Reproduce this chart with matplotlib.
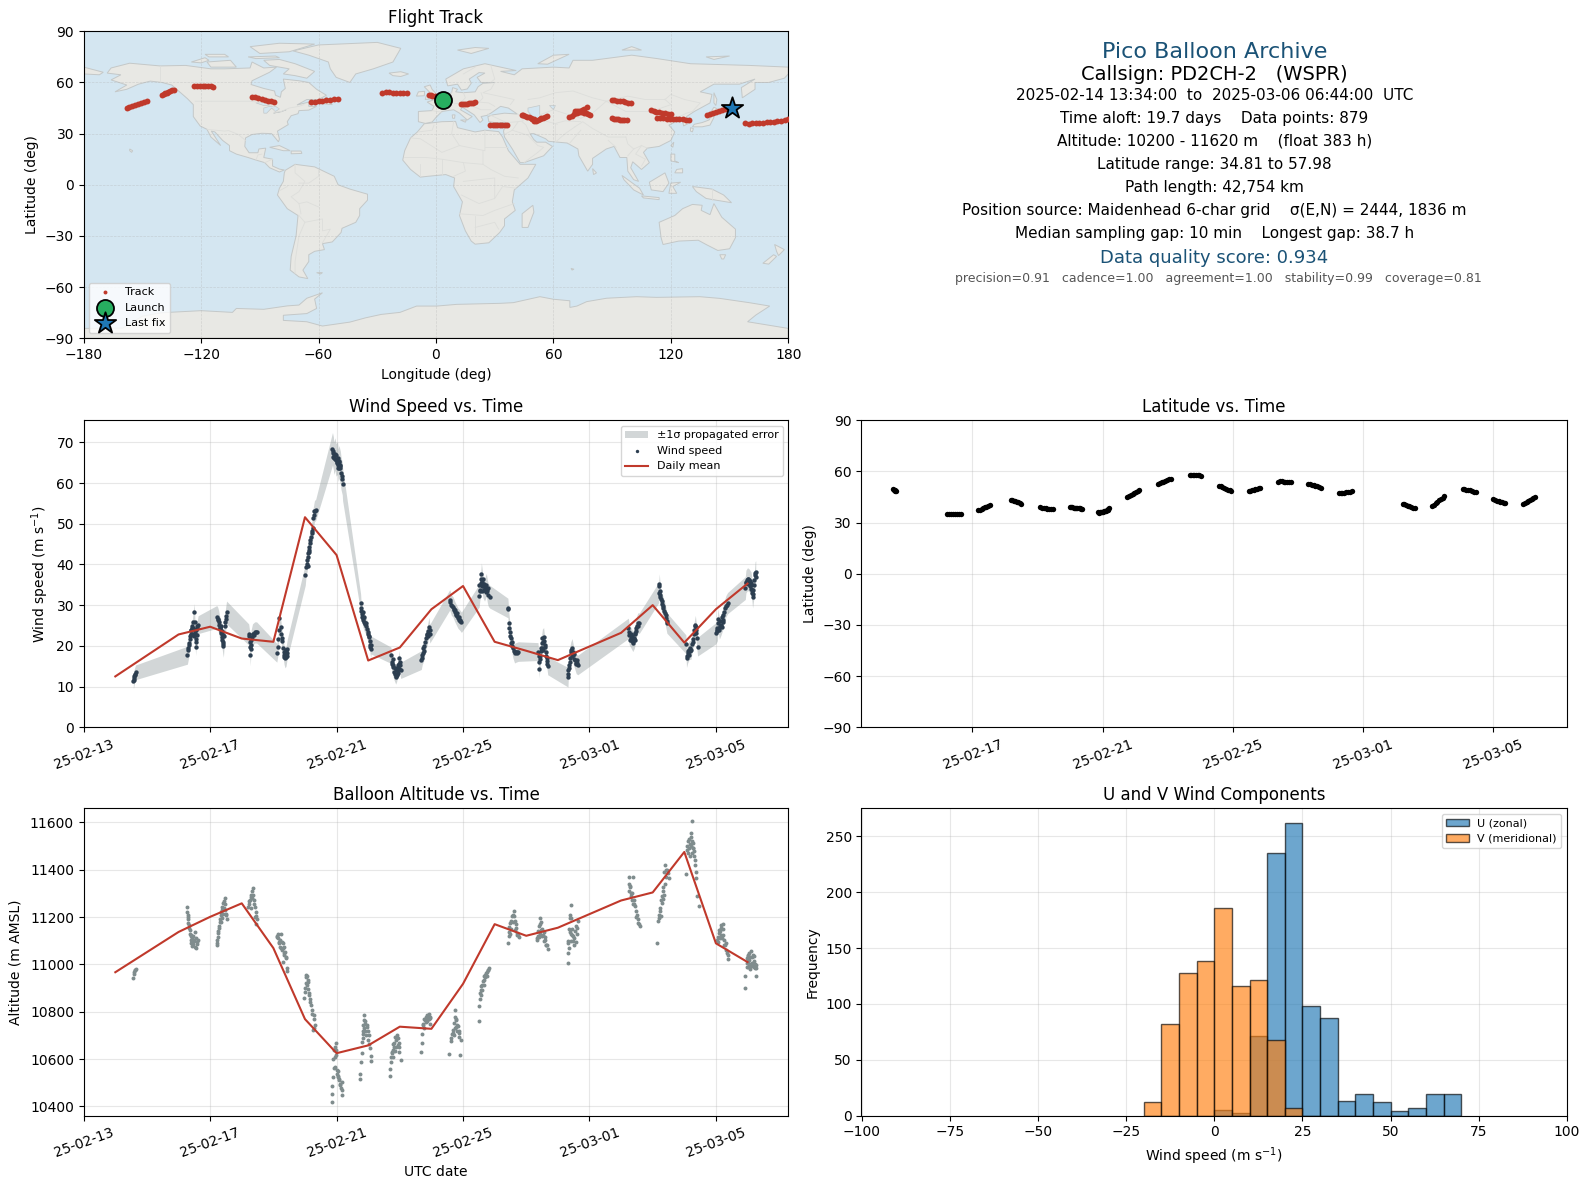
import datetime as dt
from itertools import chain
import matplotlib
matplotlib.use("Agg")
import matplotlib.pyplot as plt
import matplotlib.dates as mdates
from matplotlib.patches import Polygon

W, H = 1589, 1189
RED, GREEN, BLUE, NAVY, SLATE, GREY = "#c0392b", "#27ae60", "#1f77b4", "#1a5276", "#2c3e50", "#7f8c8d"
OCEAN, LAND, COAST, BORDER = "#d4e6f1", "#e8e8e4", "#c4c8c8", "#dddedb"

DAY0 = dt.datetime(2025, 2, 13)
tick_days = [0, 4, 8, 12, 16, 20]

# ---------- track (day offset from 25-02-13, latitude, longitude), one inner list per flight segment
track_day = [
 [1.57,1.59,1.61,1.63,1.66],
 [3.22,3.28,3.34,3.40,3.46,3.52,3.58,3.65],
 [4.18,4.23,4.28,4.33,4.38,4.43,4.48,4.54],
 [5.18,5.23,5.27,5.32,5.36,5.41,5.45,5.50],
 [6.09,6.14,6.20,6.25,6.30,6.35,6.40,6.46],
 [7.00,7.04,7.07,7.11,7.15,7.18,7.22,7.26,7.29,7.33,7.37],
 [7.85,7.88,7.91,7.94,7.97,8.00,8.03,8.06,8.09,8.12,8.15,8.18,8.20],
 [8.76,8.81,8.87,8.92,8.97,9.02,9.08,9.13],
 [9.70,9.76,9.81,9.87,9.92,9.98,10.03,10.09],
 [10.68,10.73,10.78,10.82,10.87,10.92,10.96,11.01],
 [11.57,11.63,11.68,11.74,11.79,11.85,11.90,11.96],
 [12.49,12.54,12.59,12.64,12.69,12.74,12.79,12.84],
 [13.38,13.44,13.50,13.56,13.61,13.67,13.73,13.79],
 [14.31,14.37,14.43,14.49,14.54,14.60,14.66,14.72],
 [15.26,15.32,15.37,15.43,15.48,15.54,15.59,15.65],
 [17.22,17.27,17.33,17.38,17.43,17.48,17.54,17.59],
 [18.13,18.18,18.23,18.29,18.34,18.39,18.45,18.50],
 [19.06,19.12,19.18,19.23,19.29,19.35,19.40,19.46],
 [20.01,20.06,20.12,20.17,20.22,20.27,20.33,20.38],
 [20.93,20.98,21.03,21.08,21.13,21.18,21.23,21.28],
]
track_lat = [
 [49.6,49.4,49.1,48.8,48.5],
 [34.8,34.9,34.8,34.8,34.8,34.8,34.9,34.8],
 [37.2,37.6,38.0,38.5,38.9,39.3,39.8,40.3],
 [43.2,43.0,42.8,42.5,42.3,42.0,41.6,41.2],
 [38.9,38.7,38.5,38.3,38.2,38.1,38.0,38.0],
 [39.0,38.9,38.9,38.8,38.8,38.7,38.6,38.5,38.4,38.2,38.0],
 [36.0,35.9,36.0,36.1,36.2,36.4,36.6,36.8,37.1,37.4,37.7,38.0,38.5],
 [45.3,45.8,46.3,46.8,47.3,47.8,48.3,48.9],
 [52.9,53.3,53.7,54.1,54.5,54.9,55.3,55.7],
 [58.1,58.2,58.2,58.1,58.0,57.9,57.7,57.4],
 [51.6,51.2,50.7,50.2,49.8,49.3,48.9,48.4],
 [48.4,48.7,49.0,49.3,49.6,49.9,50.2,50.5],
 [54.1,54.2,54.2,54.1,54.1,54.1,54.1,54.0],
 [52.6,52.4,52.1,51.8,51.5,51.2,50.9,50.5],
 [47.4,47.4,47.5,47.6,47.7,47.9,48.2,48.5],
 [41.2,40.8,40.4,40.0,39.6,39.2,38.8,38.3],
 [39.9,40.6,41.4,42.2,43.0,43.8,44.7,45.6],
 [49.6,49.5,49.3,49.1,48.9,48.6,48.2,47.7],
 [43.6,43.2,42.8,42.5,42.2,42.0,41.7,41.4],
 [41.0,41.5,42.1,42.7,43.3,43.9,44.4,44.9],
]
track_lon = [
 [3.7,4.2,4.7,5.2,5.7],
 [27.6,28.9,30.1,31.4,32.6,33.9,35.2,36.4],
 [50.2,51.1,52.0,52.9,53.8,54.7,55.6,56.6],
 [71.0,72.1,73.2,74.3,75.4,76.5,77.6,78.7],
 [89.8,90.9,92.0,93.0,94.1,95.2,96.3,97.4],
 [112.8,114.5,116.1,117.8,119.4,121.1,122.8,124.4,126.1,127.7,129.4],
 [157.9,159.7,161.5,163.3,165.1,167.0,168.9,170.7,172.6,174.4,176.2,178.1,180.0],
 [-158.0,-156.6,-155.1,-153.6,-152.2,-150.7,-149.2,-147.8],
 [-140.1,-139.2,-138.4,-137.5,-136.7,-135.8,-135.0,-134.1],
 [-123.4,-122.0,-120.6,-119.2,-117.9,-116.5,-115.1,-113.7],
 [-94.0,-92.4,-90.7,-89.1,-87.5,-85.9,-84.2,-82.6],
 [-64.0,-62.0,-60.0,-58.0,-56.0,-54.0,-52.0,-50.0],
 [-27.4,-25.6,-23.9,-22.1,-20.3,-18.5,-16.8,-15.0],
 [-3.8,-2.8,-1.8,-0.7,0.3,1.3,2.4,3.4],
 [12.8,13.8,14.8,15.8,16.9,17.9,18.9,19.9],
 [43.8,44.7,45.6,46.5,47.4,48.3,49.3,50.2],
 [68.0,69.3,70.6,71.9,73.1,74.4,75.7,77.0],
 [89.8,91.2,92.6,94.0,95.4,96.7,98.1,99.5],
 [109.7,111.2,112.6,114.1,115.5,117.0,118.4,119.9],
 [138.6,140.1,141.7,143.2,144.8,146.3,147.9,151.0],
]

# ---------- wind speed
wind_day = [
 [1.57,1.58,1.60,1.62,1.64],
 [3.28,3.31,3.34,3.36,3.38,3.41,3.44,3.46,3.49,3.51,3.52,3.54,3.55,3.57,3.60,3.62],
 [4.21,4.24,4.27,4.30,4.34,4.36,4.38,4.40,4.42,4.44,4.46,4.49,4.52],
 [5.22,5.25,5.27,5.28,5.30,5.34,5.41,5.47],
 [6.11,6.14,6.16,6.19,6.23,6.25,6.28,6.31,6.34,6.37,6.40,6.44],
 [7.01,7.03,7.07,7.10,7.13,7.17,7.21,7.25,7.26,7.30,7.34],
 [7.87,7.90,7.91,7.95,7.98,8.03,8.05,8.08,8.10,8.12,8.14,8.18,8.19],
 [8.76,8.77,8.80,8.83,8.87,8.91,8.96,9.00,9.04,9.06,9.08,9.09],
 [9.72,9.74,9.77,9.82,9.87,9.90,9.92,9.95,9.98,10.00,10.03],
 [10.68,10.71,10.76,10.81,10.87,10.92,10.95],
 [11.58,11.63,11.68,11.74,11.79,11.84,11.89,11.95],
 [12.51,12.53,12.56,12.58,12.61,12.63,12.68,12.74,12.77,12.80,12.84],
 [13.42,13.45,13.47,13.48,13.52,13.54,13.58,13.63,13.68,13.75],
 [14.37,14.40,14.41,14.44,14.47,14.51,14.55,14.58,14.61,14.65,14.68],
 [15.32,15.33,15.34,15.37,15.41,15.45,15.49,15.54,15.58,15.63],
 [17.23,17.26,17.32,17.37,17.42,17.45,17.47,17.53,17.58],
 [18.19,18.21,18.24,18.28,18.34,18.39,18.42,18.45],
 [19.05,19.07,19.11,19.16,19.21,19.24,19.28,19.32,19.35,19.38,19.42],
 [20.00,20.05,20.06,20.11,20.16,20.21,20.26,20.32,20.37],
 [20.93,20.95,21.00,21.05,21.11,21.14,21.16,21.21,21.24,21.26],
]
wind_speed = [
 [11.4,11.5,12.5,13.0,13.5],
 [17.7,18.9,20.2,21.8,23.0,23.9,24.3,25.9,28.2,25.9,23.9,19.8,21.0,22.6,24.3,25.2],
 [27.1,26.7,25.9,24.5,23.7,22.9,22.1,20.9,20.0,22.5,24.9,26.6,28.2],
 [22.8,21.0,17.7,19.3,21.4,22.8,23.3,23.3],
 [18.3,19.8,21.8,26.9,24.7,23.0,21.1,19.5,17.7,16.9,17.3,19.3],
 [37.5,39.4,41.0,42.7,44.3,46.0,47.6,48.9,51.3,53.1,53.4],
 [68.4,67.3,66.1,67.1,65.7,66.1,64.4,65.2,64.4,63.8,62.4,61.1,59.7],
 [30.6,29.3,27.9,26.9,25.9,25.3,24.1,22.8,22.2,20.3,19.2,20.2],
 [17.7,16.1,14.8,13.6,12.6,13.2,14.0,14.8,16.9,15.2,14.0],
 [16.5,17.7,18.7,21.0,22.6,24.7,23.0],
 [31.3,30.0,29.6,28.4,27.6,26.8,26.4,25.8],
 [32.3,33.8,35.4,37.6,35.8,34.6,33.8,35.0,33.4,32.5,32.1],
 [29.3,25.7,24.3,23.3,21.9,21.0,19.4,18.2,18.4,18.6],
 [18.6,16.1,14.3,17.4,19.4,21.9,22.3,20.2,18.6,17.0,15.1],
 [12.3,14.1,15.3,17.0,18.6,19.4,17.8,16.6,15.6,15.3],
 [24.3,22.7,21.9,21.1,21.9,23.1,24.3,25.6,25.6],
 [33.1,35.2,32.1,30.9,29.3,28.0,26.8,25.6],
 [20.4,17.0,18.2,19.0,19.0,20.4,21.8,23.9,25.2,23.1,19.8],
 [23.1,23.9,26.6,24.3,25.2,26.4,28.4,29.8,30.5],
 [34.2,35.8,36.4,36.1,35.4,33.8,32.1,35.0,37.9,38.1],
]
wind_sigma = [1.8,2.2,2.8,2.6,2.3,2.6,4.0,2.2,2.0,2.3,2.5,2.8,2.4,2.2,2.4,2.5,2.5,2.3,2.6,2.8]
wind_cloud = [
 (1.59,12),(1.61,12.9),
 (3.36,22.5),(3.39,24),(3.41,22.6),(3.43,24.9),(3.45,23),(3.47,24.5),(3.49,22.4),(3.52,23.2),(3.54,23.9),(3.56,21.8),(3.59,24.8),(3.33,20.8),(3.30,19.5),
 (4.25,26.4),(4.28,25.2),(4.31,24.3),(4.33,24.9),(4.35,23.1),(4.37,23.6),(4.39,21.5),(4.41,20.5),(4.41,22.6),(4.47,25.8),(4.50,27.4),
 (5.23,22.5),(5.26,19.8),(5.29,20.3),(5.32,22.2),(5.36,23),(5.38,22.6),(5.44,23.5),
 (6.18,24),(6.26,22),(6.33,18.5),(6.35,17.2),(6.36,18.3),(6.38,17.8),(6.39,18.9),(6.41,19),(6.42,17.5),(6.43,18.2),
 (7.05,40.2),(7.08,41.8),(7.09,39.6),(7.12,43.5),(7.15,45.2),(7.19,46.8),(7.23,48.2),(7.14,43),(7.28,52.2),(7.32,53.2),
 (7.88,67.8),(7.89,66.4),(7.93,66.6),(7.94,65.8),(7.97,66.9),(8.0,64.9),(8.02,65.2),(8.04,63.8),(8.06,64.9),(8.07,63.6),(8.09,65.3),(8.11,64.1),(8.16,61.8),
 (8.78,28.5),(8.81,27.2),(8.82,28.3),(8.85,26.3),(8.86,27),(8.89,25.6),(8.93,24.8),(8.94,25.6),(8.98,23.5),(9.02,22.4),(9.05,21.2),(9.07,19.8),
 (9.75,15.6),(9.78,16.8),(9.80,15.2),(9.84,13.2),(9.85,14.6),(9.88,12.4),(9.89,14.2),(9.91,12.8),(9.93,15.4),(9.94,13.4),(9.96,15.5),(9.97,14.2),(9.99,14.4),(10.02,16),
 (10.69,17.1),(10.73,18.2),(10.74,19.4),(10.78,20),(10.83,22),(10.85,23),(10.89,23.7),(10.9,22.5),(10.94,24),
 (11.6,30.8),(11.65,29.7),(11.7,29),(11.71,28.8),(11.76,28.8),(11.77,27.9),(11.81,27.4),(11.82,28.1),(11.86,27.2),(11.87,26.4),(11.92,26.2),
 (12.52,35),(12.55,33.4),(12.57,36.5),(12.59,34.8),(12.6,33.5),(12.62,36.5),(12.65,35.3),(12.66,33.7),(12.7,34.4),(12.72,33.2),(12.76,33.9),(12.79,34.2),
 (13.43,29),(13.5,22.5),(13.53,20.6),(13.56,20),(13.6,18.8),(13.65,18.4),(13.7,18.2),(13.72,18.5),
 (14.39,17.6),(14.43,16.8),(14.46,18.7),(14.49,20.8),(14.5,19.5),(14.53,21),(14.54,19),(14.57,21.2),(14.6,19.7),(14.63,17.6),(14.67,16.3),(14.66,15.5),
 (15.33,13.2),(15.35,14.6),(15.39,16),(15.43,19),(15.44,17.5),(15.47,18.4),(15.51,16.8),(15.52,17.9),(15.56,15.9),(15.6,16.6),(15.61,15.7),
 (17.25,23.4),(17.28,21.5),(17.3,22.8),(17.33,21.3),(17.35,22.4),(17.39,20.7),(17.4,21.8),(17.43,22.8),(17.44,21.5),(17.46,23.6),(17.5,24.9),(17.55,25),
 (18.2,34.7),(18.22,33.4),(18.23,32.6),(18.26,31.5),(18.3,30.3),(18.32,29.7),(18.36,28.6),(18.41,27.5),(18.44,26.2),
 (19.09,17.5),(19.13,18.7),(19.14,17.8),(19.18,18.8),(19.19,19.4),(19.26,21),(19.3,23),(19.33,24.8),(19.34,23.5),(19.36,24.6),(19.37,24),(19.4,22),
 (20.02,23.6),(20.04,24.5),(20.08,25.7),(20.09,24),(20.13,26),(20.14,25),(20.18,24.7),(20.2,27),(20.23,27.5),(20.24,25.8),(20.29,29.2),(20.34,30),
 (20.96,35.4),(20.98,36.2),(21.0,35.2),(21.02,36.5),(21.03,35.5),(21.07,36),(21.08,34.6),(21.1,33.9),(21.12,35),(21.15,33),(21.17,33.7),(21.18,32.8),(21.22,36.3),(21.25,37.5),(21.27,37),
]
mean_day = [1,3,4,5,6,7,8,9,10,11,12,13,14,15,17,18,19,20,21]
wind_mean = [12.5,22.8,24.7,21.8,21.0,51.6,42.3,16.4,19.6,29.0,34.7,21.0,18.8,16.5,23.2,30.0,20.8,29.0,35.3]

# ---------- altitude
alt_points = [
 (1.56,10941),(1.59,10959),(1.61,10976),(1.65,10979),(1.6,10968),(1.63,10978),
 (3.28,11241),(3.28,11223),(3.30,11202),(3.30,11190),(3.33,11166),(3.35,11145),(3.39,11124),(3.41,11089),(3.43,11078),(3.48,11103),(3.52,11138),(3.55,11068),(3.58,11096),(3.62,11103),
 (3.29,11210),(3.31,11175),(3.32,11155),(3.37,11130),(3.38,11105),(3.40,11120),(3.42,11095),(3.44,11110),(3.46,11120),(3.47,11085),(3.50,11100),(3.53,11075),(3.56,11110),(3.59,11085),
 (4.21,11080),(4.23,11103),(4.25,11131),(4.27,11152),(4.30,11180),(4.34,11209),(4.37,11230),(4.42,11258),(4.46,11279),(4.48,11230),(4.52,11190),
 (4.22,11092),(4.24,11115),(4.26,11142),(4.28,11162),(4.31,11192),(4.33,11180),(4.35,11220),(4.36,11198),(4.39,11243),(4.40,11215),(4.43,11268),(4.44,11240),(4.47,11255),(4.49,11210),(4.5,11215),
 (5.21,11244),(5.26,11272),(5.30,11293),(5.34,11321),(5.38,11272),(5.41,11244),(5.44,11223),(5.47,11190),
 (5.22,11255),(5.24,11268),(5.28,11285),(5.29,11240),(5.32,11308),(5.33,11280),(5.36,11295),(5.39,11255),(5.43,11200),(5.45,11170),(5.46,11205),
 (6.10,11114),(6.16,11128),(6.18,11096),(6.23,11128),(6.24,11068),(6.29,11089),(6.31,11011),(6.34,11075),(6.37,11054),(6.41,11025),(6.44,10973),
 (6.12,11122),(6.14,11110),(6.17,11090),(6.2,11105),(6.22,11075),(6.26,11060),(6.27,11095),(6.3,11070),(6.33,11050),(6.35,11040),(6.39,11030),(6.42,10985),
 (6.98,10860),(7.00,10884),(7.04,10955),(7.08,10934),(7.11,10898),(7.13,10870),(7.17,10842),(7.21,10807),(7.25,10722),(7.29,10786),(7.32,10743),
 (7.01,10900),(7.02,10920),(7.03,10945),(7.05,10915),(7.06,10950),(7.09,10925),(7.12,10880),(7.15,10855),(7.19,10830),(7.23,10790),(7.27,10770),(7.3,10730),
 (7.86,10419),(7.86,10454),(7.86,10487),(7.88,10525),(7.91,10564),(7.97,10666),(7.99,10617),(8.02,10539),(8.07,10511),(8.12,10497),(8.16,10468),(8.18,10450),
 (7.89,10600),(7.92,10640),(7.94,10650),(7.95,10565),(7.96,10610),(7.98,10640),(8,10555),(8.03,10525),(8.04,10550),(8.06,10530),(8.09,10515),(8.1,10490),(8.14,10480),(8.17,10505),
 (8.75,10518),(8.75,10539),(8.78,10588),(8.79,10624),(8.81,10673),(8.84,10708),(8.88,10786),(8.91,10750),(8.97,10736),(9.02,10701),(9.07,10645),(9.10,10591),
 (8.82,10690),(8.83,10720),(8.85,10745),(8.86,10765),(8.87,10730),(8.89,10760),(8.9,10720),(8.93,10700),(8.95,10745),(8.99,10680),(9.0,10720),(9.04,10665),(9.09,10615),
 (9.70,10529),(9.70,10560),(9.72,10588),(9.75,10624),(9.81,10652),(9.86,10694),(9.91,10701),(9.96,10666),(9.99,10631),(10.05,10598),
 (9.73,10610),(9.74,10630),(9.77,10640),(9.78,10610),(9.79,10665),(9.83,10670),(9.84,10635),(9.88,10680),(9.89,10650),(9.93,10690),(9.94,10660),(9.97,10650),
 (10.68,10628),(10.69,10670),(10.70,10708),(10.73,10743),(10.80,10765),(10.86,10786),(10.91,10790),(10.96,10772),
 (10.74,10750),(10.76,10730),(10.78,10770),(10.82,10755),(10.84,10780),(10.87,10760),(10.89,10775),(10.92,10770),(10.94,10780),(10.95,10750),
 (11.57,10621),(11.61,10675),(11.67,10710),(11.72,10752),(11.76,10806),(11.79,10766),(11.84,10738),(11.88,10710),(11.91,10618),(11.93,10682),
 (11.62,10690),(11.64,10705),(11.69,10725),(11.7,10700),(11.74,10780),(11.75,10730),(11.77,10770),(11.78,10735),(11.81,10745),(11.82,10720),(11.86,10695),(11.87,10720),
 (12.51,10759),(12.52,10823),(12.55,10879),(12.58,10907),(12.63,10928),(12.67,10949),(12.73,10963),(12.78,10975),(12.82,10985),
 (12.53,10855),(12.56,10890),(12.57,10870),(12.6,10915),(12.61,10890),(12.65,10935),(12.66,10915),(12.69,10945),(12.71,10955),(12.75,10950),(12.76,10970),(12.8,10975),
 (13.43,11090),(13.46,11139),(13.50,11175),(13.55,11203),(13.60,11224),(13.63,11182),(13.67,11153),(13.72,11132),(13.76,11115),
 (13.44,11120),(13.47,11160),(13.48,11130),(13.52,11185),(13.53,11150),(13.57,11210),(13.58,11180),(13.62,11205),(13.65,11145),(13.69,11170),(13.7,11125),(13.74,11125),
 (14.34,11104),(14.37,11118),(14.41,11161),(14.44,11196),(14.47,11146),(14.52,11125),(14.58,11104),(14.64,11083),(14.70,11066),
 (14.35,11110),(14.38,11140),(14.39,11115),(14.42,11170),(14.43,11130),(14.46,11180),(14.49,11120),(14.5,11150),(14.55,11135),(14.56,11100),(14.6,11115),(14.62,11080),(14.67,11080),
 (15.32,11006),(15.31,11048),(15.32,11090),(15.37,11139),(15.38,11210),(15.40,11252),(15.43,11196),(15.46,11125),(15.50,11083),(15.58,11161),(15.64,11182),
 (15.33,11100),(15.34,11070),(15.36,11150),(15.39,11195),(15.41,11130),(15.42,11100),(15.44,11150),(15.47,11100),(15.49,11120),(15.52,11110),(15.54,11140),(15.56,11095),(15.6,11130),(15.62,11155),
 (17.24,11369),(17.27,11329),(17.32,11301),(17.37,11369),(17.40,11273),(17.44,11245),(17.49,11210),(17.55,11175),(17.59,11161),
 (17.25,11340),(17.26,11310),(17.29,11330),(17.3,11290),(17.33,11270),(17.35,11300),(17.38,11255),(17.42,11255),(17.46,11225),(17.47,11200),(17.52,11190),(17.57,11170),
 (18.15,11090),(18.18,11182),(18.23,11224),(18.27,11273),(18.33,11329),(18.36,11294),(18.39,11421),(18.45,11400),(18.51,11365),
 (18.19,11195),(18.21,11210),(18.24,11240),(18.25,11205),(18.29,11260),(18.31,11290),(18.32,11310),(18.34,11275),(18.37,11390),(18.38,11340),(18.41,11400),(18.42,11370),(18.47,11385),
 (19.05,11383),(19.09,11484),(19.15,11529),(19.21,11555),(19.24,11604),(19.27,11512),(19.32,11477),(19.35,11442),(19.38,11365),(19.41,11287),(19.45,11248),
 (19.1,11500),(19.12,11470),(19.13,11520),(19.16,11490),(19.18,11510),(19.19,11460),(19.2,11540),(19.22,11500),(19.23,11470),(19.25,11520),(19.26,11490),(19.29,11490),(19.3,11460),(19.33,11420),(19.36,11390),
 (20.05,11104),(20.09,11132),(20.15,11153),(20.21,11172),(20.24,11125),(20.30,11083),(20.35,11048),(20.38,11023),
 (20.06,11115),(20.07,11095),(20.1,11145),(20.12,11110),(20.13,11140),(20.16,11125),(20.17,11165),(20.19,11110),(20.22,11150),(20.26,11105),(20.27,11080),(20.32,11060),(20.33,11090),(20.37,11040),
 (20.91,10900),(20.92,10949),(20.97,11006),(21.03,11034),(21.11,11055),(21.15,11006),(21.21,11034),(21.26,10949),(21.28,10999),
 (20.98,11025),(20.99,10990),(21.0,11015),(21.01,11040),(21.02,10990),(21.04,11000),(21.05,11020),(21.06,11050),(21.07,10995),(21.08,11030),(21.09,10980),(21.1,11000),(21.13,11030),(21.14,10995),(21.16,11040),(21.17,11000),(21.19,11015),(21.2,10990),(21.23,11000),(21.24,10985),(21.27,10985),
]
alt_mean = [10967,11137,11201,11258,11069,10769,10625,10658,10737,10728,10918,11170,11121,11155,11270,11304,11475,11089,11010]

# ---------- histogram (bin left edges, counts)
bin_left = [-20,-15,-10,-5,0,5,10,15,20,25,30,35,40,45,50,55,60,65]
u_counts = [0,0,0,0,5,2,71,235,262,98,87,13,19,12,4,7,19,19]
v_counts = [12,82,128,138,186,116,121,68,7,0,0,0,0,0,0,0,0,0]

# ---------- text panel
info_lines = [
 "2025-02-14 13:34:00  to  2025-03-06 06:44:00  UTC",
 "Time aloft: 19.7 days    Data points: 879",
 "Altitude: 10200 - 11620 m    (float 383 h)",
 "Latitude range: 34.81 to 57.98",
 "Path length: 42,754 km",
 "Position source: Maidenhead 6-char grid    \u03c3(E,N) = 2444, 1836 m",
 "Median sampling gap: 10 min    Longest gap: 38.7 h",
]
info_y = [95.5, 118.5, 141.5, 164.5, 187.5, 210.5, 233.5]

# ---------- base map outlines (lon, lat)
land_polygons = [
 # North America
 [(-168,65.5),(-166,68.5),(-156.5,71.3),(-141,69.7),(-128,70),(-115,68),(-108,68),(-95,68.5),(-94,72),(-88,68.5),(-81.5,69),(-85,66),(-94,61),(-94.5,58.8),(-88,56.5),(-82.5,55),(-82,52.5),(-79.5,51.3),(-79,54.5),(-77,56.5),(-78,62),(-70,61),(-65,60),(-61,56),(-56,52.5),(-60,50),(-66,50),(-71,46.8),(-65,48.5),(-65,46),(-61,46),(-65,43.8),(-70,43.5),(-70.5,41.7),(-74,40.5),(-76,37),(-75.5,35.3),(-81,31.5),(-80,26.8),(-80.5,25.2),(-82.5,28),(-84,30),(-89,30.2),(-94,29.5),(-97.3,27.5),(-97.7,22.5),(-95.5,18.8),(-91,18.8),(-90.5,21),(-87,21.5),(-88,16),(-83.5,15),(-83.5,11),(-80,9.2),(-77.5,8.7),(-80,7.5),(-85,10),(-87.5,13),(-92,14.5),(-96,16),(-102,18),(-105.5,20),(-105.5,23),(-109,26),(-113,31),(-114.8,31.5),(-112,26.5),(-110,23),(-112,25),(-115,28),(-117,32.5),(-120.5,34.5),(-124,40),(-124,47),(-127,50.5),(-131,54.5),(-135,58.5),(-140,60),(-146,60.8),(-152,59),(-158,56),(-164,54.5),(-158,58.5),(-162,60),(-166,61.5),(-161,64.5)],
 # Greenland and Canadian Arctic
 [(-73,78.5),(-60,82),(-30,83.5),(-18,80),(-22,72),(-32,68),(-41,65),(-44,60),(-51,63),(-54,68),(-55,72),(-65,76)],
 [(-80,73.5),(-72,71),(-62,66.5),(-66,62.5),(-72,64),(-78,65),(-75,68),(-85,70),(-88,73)],
 [(-117,72),(-105,73),(-102,69),(-115,69)],
 [(-90,77),(-75,78),(-62,82.5),(-80,83),(-95,81)],
 [(-125,72),(-118,74.5),(-116,73),(-120,71.5)],
 [(-96,75),(-82,75.5),(-80,74.5),(-92,74)],
 [(-118,76.5),(-108,76.5),(-106,75),(-116,75)],
 [(-59,47.7),(-53,47),(-56,51.5)],
 [(-24,65.5),(-18,66.3),(-14,65),(-18,63.5),(-22,64)],
 # Caribbean
 [(-85,22),(-80,23),(-74.5,20),(-78,20)],
 [(-74,19.8),(-69,19.8),(-68.5,18.4),(-74,18.2)],
 [(-156.5,21),(-155,20),(-155.5,19),(-156.5,20)],
 # British Isles
 [(-5.5,50),(1.5,51.2),(0,53.5),(-2,56),(-3,58.5),(-6,57.5),(-3,54),(-5,52)],
 [(-10,52),(-6,52.2),(-5.8,54.8),(-9,54.5)],
 # South America
 [(-77,8.5),(-72,12),(-62,10.5),(-52,5),(-50,0),(-44,-2.5),(-35,-5.5),(-35,-9),(-39,-14),(-39,-18),(-41,-22),(-48,-25.5),(-48.5,-28),(-53,-33.5),(-58,-34.5),(-57,-38),(-62,-39),(-65,-41),(-65,-45),(-68,-50),(-65.5,-55),(-70,-54),(-74.5,-50),(-74,-42),(-71.5,-30),(-70.5,-18),(-76,-14),(-81,-6),(-80,-2),(-78,2),(-77.5,7)],
 [(-61,-51.5),(-58,-51.5),(-59,-52.3)],
 # Africa
 [(-6,35.8),(3,37),(10,37.2),(11,33.5),(20,31),(25,32),(32,31.2),(34,28),(37,20),(43,12),(51,12),(47,4),(40,-3),(39,-10),(40.5,-15),(35,-20),(35,-24),(32.5,-28),(27,-34),(20,-34.8),(18,-33),(15,-27),(12,-18),(13.5,-10),(9,-1),(9.5,4),(5,6),(-4,5),(-8,4.5),(-13,9),(-17,14.5),(-16,20),(-13,27.5),(-9.5,31)],
 [(49.5,-12),(50,-16),(47,-25),(44,-25),(44,-17)],
 # Eurasia
 [(-9,37),(-9,43),(-2,43.5),(-1,46),(-4.5,48.5),(2,51),(8,54),(8.5,57),(11,56),(10,54.5),(14,54),(20,54.5),(21.5,57.5),(24,59.5),(30,60),(23,60),(21,63),(25,65.5),(22,65.8),(17,62),(18,59.5),(16,56.2),(13,55.5),(11,59),(6,58),(5,62),(14,68),(25,71),(41,67),(33,66.5),(40,64.5),(44,68),(60,69),(68,68.5),(70,73),(80,73),(100,76),(113,74),(130,71),(160,70),(180,69),(180,65),(178,62.5),(170,60),(163,60),(163,56),(156.5,51),(156,57),(163,62),(155,59),(142,59),(135,54.5),(141,53),(140,48),(132,43),(128,40),(129,36),(126.5,34.5),(126,37.5),(124.5,40),(121,39),(118,39),(122.5,37),(119,35),(122,31),(120,26),(114,22.5),(108,21.5),(106,19),(109,13),(105,9),(100.5,13.5),(99.5,10),(103.5,2),(101,3),(98,8),(97.5,16),(94,16),(91,22.5),(87,21),(80,15.5),(80,12),(77.5,8),(73,17),(72.5,21),(67,24.5),(57.5,25.5),(56,27),(50,30),(48,30),(50,26.5),(51.5,25),(56,25),(59.5,22.5),(55,17),(45,13),(43,13),(39,21),(35,28),(34.5,31.5),(36,36.5),(30,36.5),(27,37),(26.5,40),(29,41),(35,42),(41.5,41.5),(37,45),(35,45.5),(33,46),(28,42),(26,40.7),(23,40),(24,38),(22.5,36.5),(19.5,41),(13.5,45.5),(12.5,44),(18.5,40),(16,38),(12,42),(9,44),(3,43),(0,39.5),(-2,36.8),(-5.5,36)],
 [(-180,65),(-172,64.5),(-170,66),(-175,67.5),(-180,69)],
 [(52,71),(57,70.7),(68,76.5),(60,76)],
 [(11,79),(20,80.5),(27,80),(18,77)],
 [(95,79),(105,79),(100,81)],
 [(138,75),(150,75.5),(142,73.5)],
 [(142,54),(143.5,50),(143,46.5),(142,48)],
 [(131,34),(136,34),(140,35),(142,39.5),(141,41.5),(139.5,38),(136,36.5),(132,35.5)],
 [(140,42),(142,45.5),(145.5,43.5),(143,42)],
 [(130,33.5),(131.5,33),(131,31),(130,31.5)],
 [(120,23),(121.5,25),(121,22)],
 [(80,9.5),(82,7),(80.5,6)],
 [(12.5,38),(15.5,38),(15,36.7)],
 [(8.3,41),(9.7,41),(9.5,39),(8.5,39)],
 # South-East Asia and Oceania
 [(120,18),(122,18),(122,14),(124,13),(120,14)],
 [(122,7),(126,7),(126,9.5),(123,9)],
 [(95,5.5),(104,-2),(106,-6),(101,-3),(96,3)],
 [(105,-6.5),(114,-7.5),(114,-8.7),(106,-7.7)],
 [(109,1.5),(117,7),(119,1),(116,-4),(110,-3)],
 [(119,-5),(120,1),(125,1.5),(121,-1),(123,-5)],
 [(131,-1),(141,-2.5),(147,-6),(151,-10.5),(143,-9),(138,-8),(133,-4)],
 [(114,-22),(122,-18),(126,-14),(131,-11.5),(136,-12),(135.5,-15),(140,-17.5),(142,-11),(146,-19),(153,-26),(153,-31),(150,-37.5),(144,-38.5),(138,-35),(134,-32.5),(124,-33),(116,-35),(115,-31)],
 [(145,-41),(148,-41),(147,-43.5),(146,-43.5)],
 [(173,-35),(178,-38),(175,-41.5),(174,-39)],
 [(172.5,-41),(174,-42),(170,-46.5),(167,-46)],
 [(69,-49),(70.5,-49.5),(69.5,-50)],
 # Antarctica
 [(-180,-84.2),(-160,-84),(-150,-77),(-140,-75),(-120,-73.8),(-104,-74.8),(-102,-72.5),(-88,-73),(-76,-71),(-70,-70.5),(-66,-66.5),(-58,-63.3),(-62,-67),(-61,-72.5),(-66,-75.5),(-78,-76.5),(-78,-79.5),(-66,-80.3),(-58,-82.8),(-44,-80.5),(-36,-78),(-28,-76),(-18.4,-74.8),(-9.9,-71.1),(0.4,-71.1),(10.6,-70.1),(32.7,-69.5),(39.5,-69.1),(53.1,-65.6),(60,-67.1),(68.4,-68),(68.4,-71.9),(72,-71.1),(77,-68.5),(87.2,-66.5),(102.5,-65.6),(112.7,-66),(134.8,-65.6),(145,-66.6),(160,-69.1),(170.5,-71.1),(163.5,-76.3),(159.2,-80.3),(180,-84.2),(180,-90),(-180,-90)],
]
water_polygons = [
 [(47,45),(53,46.5),(53,41),(54,37),(50,37.5),(49,40.5),(47,43)],
 [(-92,48),(-85,48.5),(-85,46.7),(-88,46.5)],
 [(-88,45),(-85,46),(-82,46),(-80,44.5),(-82,43),(-84,45),(-86.5,42),(-88,42)],
 [(-83,42),(-79,43),(-76.5,44),(-79,42.8)],
 [(58,46.5),(61,46.5),(60,44)],
]
border_lines = [
 [(-141,69.7),(-141,60.3)], [(-123,49),(-95,49),(-88,48),(-83,46),(-82.5,42.5),(-79,43),(-75,45),(-70,46),(-67.5,47)],
 [(-117,32.5),(-108,31.5),(-106,31.8),(-101,29.5),(-97.3,26)], [(-92,14.5),(-91,17.5),(-89,18)], [(-87.5,13),(-83.5,15)],
 [(-72,12),(-72,7),(-67,2),(-70,-4),(-74,-7),(-70,-11),(-69,-17)], [(-60,8.5),(-60,5),(-65,1),(-70,1)],
 [(-70,-18),(-67,-22),(-70,-30),(-72,-45),(-72,-52)], [(-67,-22),(-58,-20),(-58,-27),(-54,-26),(-58,-34)],
 [(-76,-1),(-80,-3.5)], [(-60,-13),(-66,-10),(-70,-11)],
 [(-9,31),(-2,32),(-1,35)], [(9,37),(8,30),(12,23),(25,20),(25,32)], [(-13,27.5),(-8,27),(3,19),(12,23)],
 [(25,22),(37,22)], [(-16,16),(-5,16),(3,15),(14,13),(24,12),(24,20)], [(14,13),(15,8),(9,5)], [(24,12),(28,9),(35,5),(42,4)],
 [(3,15),(3,6)], [(-8,12),(-8,5)], [(14,2),(30,4),(30,-8),(22,-11),(13,-6)], [(12,-17),(24,-18),(30,-15),(40,-11)],
 [(20,-29),(20,-18)], [(20,-25),(30,-22),(32,-26)], [(30,-8),(34,-1),(41,-2)],
 [(-2,43.5),(3,42.5)], [(2,51),(8,49),(7.5,47.5),(7,44)], [(8,54),(7,51),(6,49.5)], [(14,54),(15,51),(12.5,48),(9.5,47.5)],
 [(12.5,48),(17,48),(22,48.5),(24,51),(23,54)], [(17,48),(16,46.5),(13.5,46)], [(22,48.5),(27,48),(30,46)], [(19,46),(23,44),(28,44)],
 [(30,60),(28,56),(24,54),(32,52),(40,50),(38,47)], [(28,70),(30,62),(28,60)], [(14,65),(20,69)],
 [(26.5,41.5),(36,36.5),(42,37),(44.5,37.5),(44.5,39.5),(41.5,41.5)], [(44,37),(46,35),(48,30)], [(42,37),(39,32),(35,29.5)],
 [(39,32),(47,29),(52,23),(55,22),(52,19)], [(45,13),(52,19)], [(61,25),(61,36),(66,37.5),(74,37)], [(61,25),(66,30),(71,34)],
 [(71,34),(75,37),(80,33),(88,28),(97,28)], [(68,24),(71,28),(74,32)], [(88,26),(92,22)], [(97,28),(98,24),(101,21),(105,23),(108,21.5)],
 [(98,17),(101,21)], [(105,23),(102,18),(107,15),(105,11)],
 [(47,50),(53,51),(61,54),(70,55),(80,51),(87,49),(98,52),(107,50),(117,50),(120,53),(127,50),(135,48),(131,43)],
 [(87,49),(80,42),(74,39)], [(87,49),(97,43),(110,43),(120,47),(117,50)], [(53,41),(60,44),(68,41),(74,39)], [(54,38),(62,35.5)],
 [(124.5,40),(128,42),(131,43)], [(126,38),(129,38.5)], [(141,-2.5),(141,-9)],
]

# ---------- helpers (layout only)
def make_axes(left, right, top, bottom):
    return fig.add_axes([left / W, 1 - bottom / H, (right - left) / W, (bottom - top) / H])

def to_dates(days):
    base = mdates.date2num(DAY0)
    return [base + d for d in days]

def flat(lists):
    return list(chain.from_iterable(lists))

def style_dates(ax, xlim):
    ax.set_xlim(*to_dates(xlim))
    ax.set_xticks([t for t in to_dates(tick_days) if t >= ax.get_xlim()[0]])
    ax.xaxis.set_major_formatter(mdates.DateFormatter("%y-%m-%d"))
    ax.tick_params(axis="x", labelrotation=20)
    ax.grid(True, alpha=0.3)
    ax.set_axisbelow(True)

fig = plt.figure(figsize=(W / 100, H / 100), dpi=100)

# ---------- map
ax_map = make_axes(83.7, 788.3, 31.3, 338.3)
ax_map.set_facecolor(OCEAN)
for poly in land_polygons:
    ax_map.add_patch(Polygon(poly, closed=True, facecolor=LAND, edgecolor=COAST, lw=0.7, zorder=1))
for poly in water_polygons:
    ax_map.add_patch(Polygon(poly, closed=True, facecolor=OCEAN, edgecolor=COAST, lw=0.5, zorder=1.1))
for line in border_lines:
    xs, ys = zip(*line)
    ax_map.plot(xs, ys, color=BORDER, lw=0.6, zorder=1.2)
all_lon, all_lat = flat(track_lon), flat(track_lat)
ax_map.set_axisbelow("line")
ax_map.grid(True, ls="--", lw=0.5, alpha=0.4)
ax_map.scatter(all_lon, all_lat, s=18, color=RED, linewidths=0, zorder=3)
ax_map.scatter([], [], s=8, color=RED, linewidths=0, label="Track")
ax_map.scatter(all_lon[0], all_lat[0], s=150, color=GREEN, edgecolors="black", linewidths=1.3, zorder=4, label="Launch")
ax_map.scatter(all_lon[-1], all_lat[-1], s=260, marker="*", color=BLUE, edgecolors="black", linewidths=1.3, zorder=4, label="Last fix")
ax_map.set_xlim(-180, 180)
ax_map.set_ylim(-90, 90)
ax_map.set_xticks(range(-180, 181, 60))
ax_map.set_yticks(range(-90, 91, 30))
ax_map.set_xlabel("Longitude (deg)")
ax_map.set_ylabel("Latitude (deg)")
ax_map.set_title("Flight Track")
ax_map.legend(loc="lower left", fontsize=8)

# ---------- text panel
tx = 1214.5
fig.text(tx / W, 1 - 52.5 / H, "Pico Balloon Archive", ha="center", va="center", fontsize=16, color=NAVY)
fig.text(tx / W, 1 - 75 / H, "Callsign: PD2CH-2   (WSPR)", ha="center", va="center", fontsize=14, color="black")
for y, line in zip(info_y, info_lines):
    fig.text(tx / W, 1 - y / H, line, ha="center", va="center", fontsize=11, color="black")
fig.text(tx / W, 1 - 258 / H, "Data quality score: 0.934", ha="center", va="center", fontsize=13, color=NAVY)
fig.text((tx + 4) / W, 1 - 278.5 / H, "precision=0.91   cadence=1.00   agreement=1.00   stability=0.99   coverage=0.81",
         ha="center", va="center", fontsize=9, color="#555555")

# ---------- wind
ax_wind = make_axes(83.7, 788.3, 420.3, 727.3)
w_t = to_dates(flat(wind_day))
w_v = flat(wind_speed)
w_s = flat([[s] * len(seg) for s, seg in zip(wind_sigma, wind_day)])
ax_wind.fill_between(w_t, [v - s for v, s in zip(w_v, w_s)], [v + s for v, s in zip(w_v, w_s)],
                     color=GREY, alpha=0.35, linewidth=0, label="\u00b11\u03c3 propagated error")
ax_wind.scatter(w_t, w_v, s=10, color=SLATE, linewidths=0, zorder=3)
c_day, c_speed = zip(*wind_cloud)
ax_wind.scatter(to_dates(c_day), c_speed, s=10, color=SLATE, linewidths=0, zorder=3)
ax_wind.scatter([], [], s=6, color=SLATE, linewidths=0, label="Wind speed")
ax_wind.plot(to_dates(mean_day), wind_mean, color=RED, lw=1.5, zorder=4, label="Daily mean")
style_dates(ax_wind, (0.0, 22.29))
ax_wind.set_ylim(0, 75.4)
ax_wind.set_yticks(range(0, 71, 10))
ax_wind.set_ylabel("Wind speed (m s$^{-1}$)")
ax_wind.set_title("Wind Speed vs. Time")
ax_wind.legend(loc="upper right", fontsize=8)

# ---------- latitude
ax_lat = make_axes(861.5, 1567, 420.3, 727.3)
ax_lat.scatter(to_dates(flat(track_day)), flat(track_lat), s=15, color="black", linewidths=0, zorder=3)
style_dates(ax_lat, (0.59, 22.27))
ax_lat.set_ylim(-90, 90)
ax_lat.set_yticks(range(-90, 91, 30))
ax_lat.set_ylabel("Latitude (deg)")
ax_lat.set_title("Latitude vs. Time")

# ---------- altitude
ax_alt = make_axes(83.7, 788.3, 808.4, 1115.7)
a_day, a_m = zip(*alt_points)
ax_alt.scatter(to_dates(a_day), a_m, s=8, color=GREY, linewidths=0, zorder=3)
ax_alt.plot(to_dates(mean_day), alt_mean, color=RED, lw=1.5, zorder=4)
style_dates(ax_alt, (0.0, 22.29))
ax_alt.set_ylim(10361, 11659)
ax_alt.set_yticks(range(10400, 11601, 200))
ax_alt.set_xlabel("UTC date")
ax_alt.set_ylabel("Altitude (m AMSL)", labelpad=5.5)
ax_alt.set_title("Balloon Altitude vs. Time")

# ---------- histogram
ax_hist = make_axes(861.5, 1567, 808.4, 1115.7)
ax_hist.bar(bin_left, u_counts, width=5, align="edge", color=BLUE, alpha=0.65, edgecolor="black", linewidth=1, label="U (zonal)")
ax_hist.bar(bin_left, v_counts, width=5, align="edge", color="#ff7f0e", alpha=0.65, edgecolor="black", linewidth=1, label="V (meridional)")
ax_hist.set_xlim(-100, 100)
ax_hist.set_ylim(0, 275)
ax_hist.set_xticks(range(-100, 101, 25))
ax_hist.set_yticks(range(0, 251, 50))
ax_hist.grid(True, alpha=0.3)
ax_hist.set_axisbelow(True)
ax_hist.set_xlabel("Wind speed (m s$^{-1}$)")
ax_hist.set_ylabel("Frequency")
ax_hist.set_title("U and V Wind Components")
ax_hist.legend(loc="upper right", fontsize=8)

fig.savefig("out.png", dpi=100)
